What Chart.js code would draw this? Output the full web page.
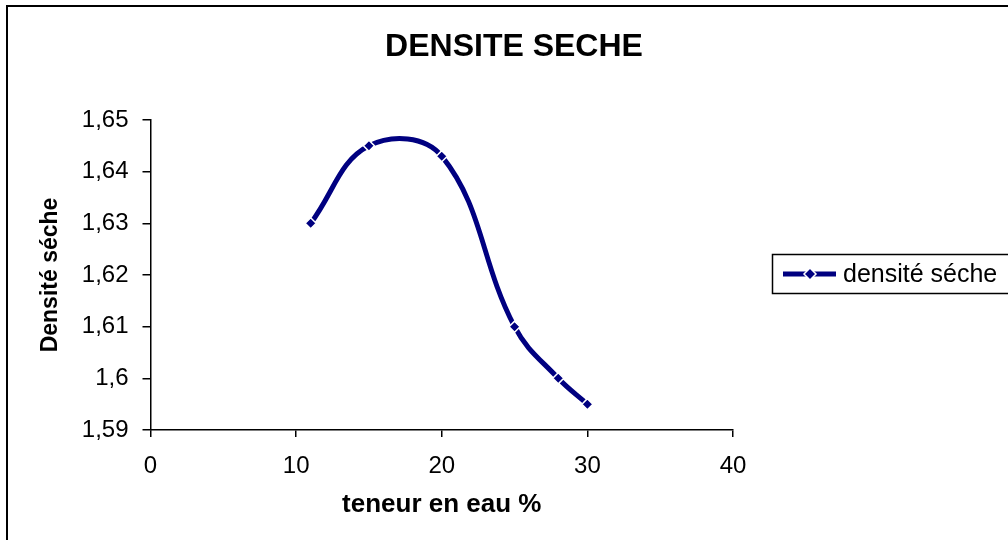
<!DOCTYPE html>
<html>
<head>
<meta charset="utf-8">
<title>Densite seche</title>
<script src="https://cdn.jsdelivr.net/npm/chart.js@4.4.1/dist/chart.umd.min.js"></script>
<style>
    html, body { margin: 0; padding: 0; background: #fff; }
    #wrap { width: 1008px; height: 540px; position: relative; }
</style>
</head>
<body>
<div id="wrap"><canvas id="densiteChart"></canvas></div>
<script>
// Données
const teneurEau = [11, 15, 20, 25, 28, 30];
const densiteSeche = [1.630, 1.645, 1.643, 1.610, 1.600, 1.595];
const xTicks = [0, 10, 20, 30, 40];
const yTicks = [1.59, 1.60, 1.61, 1.62, 1.63, 1.64, 1.65];

const chartTitle = 'DENSITE SECHE';
const serieLabel = 'densité séche';
const xTitle = 'teneur en eau %';
const yTitle = 'Densité séche';

const NAVY = '#000080';
const FONT = 'Arial, "Liberation Sans", sans-serif';

// Titre, cadre et légende dessinés à la main (style Excel)
const excelDecor = {
    id: 'excelDecor',
    afterDraw: function(chart) {
        const ctx = chart.ctx;
        ctx.save();
        // cadre du graphique
        ctx.strokeStyle = '#000';
        ctx.lineWidth = 2;
        ctx.beginPath();
        ctx.moveTo(7, 545);
        ctx.lineTo(7, 6);
        ctx.lineTo(1015, 6);
        ctx.stroke();

        // titre
        ctx.fillStyle = '#000';
        ctx.font = 'bold 32px ' + FONT;
        ctx.textAlign = 'center';
        ctx.textBaseline = 'alphabetic';
        ctx.fillText(chartTitle, 514, 56);

        // légende
        ctx.lineWidth = 1.5;
        ctx.strokeRect(772.5, 254.5, 260, 39);
        ctx.strokeStyle = NAVY;
        ctx.lineWidth = 5;
        ctx.beginPath();
        ctx.moveTo(783, 274);
        ctx.lineTo(836, 274);
        ctx.stroke();
        ctx.fillStyle = NAVY;
        ctx.strokeStyle = '#fff';
        ctx.lineWidth = 1.5;
        ctx.beginPath();
        ctx.moveTo(810, 268);
        ctx.lineTo(816, 274);
        ctx.lineTo(810, 280);
        ctx.lineTo(804, 274);
        ctx.closePath();
        ctx.fill();
        ctx.stroke();
        ctx.fillStyle = '#000';
        ctx.font = '25px ' + FONT;
        ctx.textAlign = 'left';
        ctx.textBaseline = 'middle';
        ctx.fillText(serieLabel, 843, 275);
        ctx.restore();
    }
};

function virgule(v) {
    return String(Math.round(v * 100) / 100).replace('.', ',');
}

const ctx = document.getElementById('densiteChart');
new Chart(ctx, {
    type: 'scatter',
    data: {
        datasets: [{
            label: serieLabel,
            data: teneurEau.map((x, i) => ({ x: x, y: densiteSeche[i] })),
            showLine: true,
            borderColor: NAVY,
            borderWidth: 5,
            tension: 0.4,
            pointStyle: 'rectRot',
            pointRadius: 5.5,
            pointBackgroundColor: NAVY,
            pointBorderColor: '#fff',
            pointBorderWidth: 1.5
        }]
    },
    options: {
        responsive: true,
        maintainAspectRatio: false,
        animation: false,
        layout: { padding: { left: 0, top: 120, right: 1008 - 733, bottom: 0 } },
        plugins: {
            legend: { display: false },
            title: { display: false },
            tooltip: { enabled: false }
        },
        scales: {
            x: {
                type: 'linear',
                min: 0,
                max: 40,
                afterFit: function(scale) { scale.height = 110; },
                afterBuildTicks: function(scale) {
                    scale.ticks = xTicks.map(v => ({ value: v }));
                },
                border: { color: '#000', width: 1.5 },
                grid: { drawOnChartArea: false, drawTicks: true, tickLength: 7, color: '#000', lineWidth: 1.5 },
                ticks: {
                    color: '#000',
                    padding: 15,
                    maxRotation: 0,
                    font: { family: FONT, size: 24 }
                },
                title: {
                    display: true,
                    text: xTitle,
                    color: '#000',
                    padding: { top: 0, bottom: 20 },
                    font: { family: FONT, size: 26, weight: 'bold' }
                }
            },
            y: {
                type: 'linear',
                min: 1.59,
                max: 1.65,
                afterFit: function(scale) { scale.width = 150.5; },
                afterBuildTicks: function(scale) {
                    scale.ticks = yTicks.map(v => ({ value: v }));
                },
                border: { color: '#000', width: 1.5 },
                grid: { drawOnChartArea: false, drawTicks: true, tickLength: 8, color: '#000', lineWidth: 1.5 },
                ticks: {
                    color: '#000',
                    padding: 14,
                    callback: function(v) { return virgule(v); },
                    font: { family: FONT, size: 24 }
                },
                title: {
                    display: true,
                    text: yTitle,
                    color: '#000',
                    padding: { top: 37, bottom: 0 },
                    font: { family: FONT, size: 23, weight: 'bold' }
                }
            }
        }
    },
    plugins: [excelDecor]
});
</script>
</body>
</html>
